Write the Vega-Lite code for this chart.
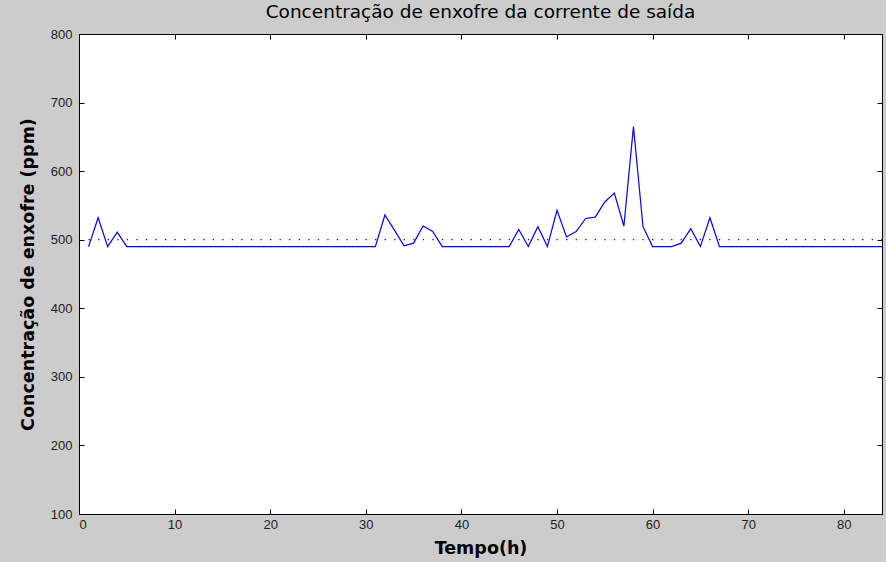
{
  "$schema": "https://vega.github.io/schema/vega-lite/v6.json",
  "width": 803,
  "height": 480,
  "autosize": {"type": "none"},
  "padding": {"left": 79, "top": 34, "right": 4, "bottom": 48},
  "background": "#cccccc",
  "title": {
    "text": "Concentração de enxofre da corrente de saída",
    "font": "DejaVu Sans",
    "fontSize": 18.5,
    "fontWeight": "normal",
    "color": "#000000",
    "anchor": "middle",
    "offset": 7
  },
  "config": {
    "view": {"fill": "#ffffff", "stroke": "#000000", "strokeWidth": 1},
    "axis": {
      "grid": false,
      "domainColor": "#000000",
      "tickColor": "#000000",
      "tickWidth": 1,
      "tickSize": -5,
      "labelFont": "Liberation Sans",
      "labelFontSize": 13,
      "labelColor": "#222222",
      "titleFont": "DejaVu Sans",
      "titleFontSize": 17.5,
      "titleFontWeight": "bold",
      "titleColor": "#000000"
    }
  },
  "datasets": {
    "saida": [
      {"t": 1, "c": 490}, {"t": 2, "c": 532}, {"t": 3, "c": 490}, {"t": 4, "c": 511},
      {"t": 5, "c": 490}, {"t": 6, "c": 490}, {"t": 7, "c": 490}, {"t": 8, "c": 490},
      {"t": 9, "c": 490}, {"t": 10, "c": 490}, {"t": 11, "c": 490}, {"t": 12, "c": 490},
      {"t": 13, "c": 490}, {"t": 14, "c": 490}, {"t": 15, "c": 490}, {"t": 16, "c": 490},
      {"t": 17, "c": 490}, {"t": 18, "c": 490}, {"t": 19, "c": 490}, {"t": 20, "c": 490},
      {"t": 21, "c": 490}, {"t": 22, "c": 490}, {"t": 23, "c": 490}, {"t": 24, "c": 490},
      {"t": 25, "c": 490}, {"t": 26, "c": 490}, {"t": 27, "c": 490}, {"t": 28, "c": 490},
      {"t": 29, "c": 490}, {"t": 30, "c": 490}, {"t": 31, "c": 490}, {"t": 32, "c": 536},
      {"t": 33, "c": 514}, {"t": 34, "c": 491}, {"t": 35, "c": 495}, {"t": 36, "c": 520},
      {"t": 37, "c": 512}, {"t": 38, "c": 490}, {"t": 39, "c": 490}, {"t": 40, "c": 490},
      {"t": 41, "c": 490}, {"t": 42, "c": 490}, {"t": 43, "c": 490}, {"t": 44, "c": 490},
      {"t": 45, "c": 490}, {"t": 46, "c": 515}, {"t": 47, "c": 490}, {"t": 48, "c": 519},
      {"t": 49, "c": 490}, {"t": 50, "c": 543}, {"t": 51, "c": 504}, {"t": 52, "c": 512},
      {"t": 53, "c": 531}, {"t": 54, "c": 533}, {"t": 55, "c": 555}, {"t": 56, "c": 568},
      {"t": 57, "c": 520}, {"t": 58, "c": 665}, {"t": 59, "c": 519}, {"t": 60, "c": 490},
      {"t": 61, "c": 490}, {"t": 62, "c": 490}, {"t": 63, "c": 495}, {"t": 64, "c": 516},
      {"t": 65, "c": 490}, {"t": 66, "c": 532}, {"t": 67, "c": 490}, {"t": 68, "c": 490},
      {"t": 69, "c": 490}, {"t": 70, "c": 490}, {"t": 71, "c": 490}, {"t": 72, "c": 490},
      {"t": 73, "c": 490}, {"t": 74, "c": 490}, {"t": 75, "c": 490}, {"t": 76, "c": 490},
      {"t": 77, "c": 490}, {"t": 78, "c": 490}, {"t": 79, "c": 490}, {"t": 80, "c": 490},
      {"t": 81, "c": 490}, {"t": 82, "c": 490}, {"t": 83, "c": 490}, {"t": 84, "c": 490}
    ],
    "especificacao": [
      {"t": 1, "c": 500},
      {"t": 84, "c": 500}
    ]
  },
  "layer": [
    {
      "data": {"name": "saida"},
      "mark": {"type": "line", "color": "#0000ff", "strokeWidth": 1.2},
      "encoding": {
        "x": {
          "field": "t", "type": "quantitative",
          "scale": {"domain": [0, 84], "nice": false, "zero": false},
          "axis": {"title": "Tempo(h)", "values": [0, 10, 20, 30, 40, 50, 60, 70, 80], "labelPadding": 9, "titlePadding": 8}
        },
        "y": {
          "field": "c", "type": "quantitative",
          "scale": {"domain": [100, 800], "nice": false, "zero": false},
          "axis": {"title": "Concentração de enxofre (ppm)", "values": [100, 200, 300, 400, 500, 600, 700, 800], "labelPadding": 12, "titlePadding": 13}
        }
      }
    },
    {
      "data": {"name": "especificacao"},
      "mark": {"type": "line", "color": "#0000ff", "strokeWidth": 1.3, "strokeDash": [1.3, 8.25]},
      "encoding": {
        "x": {
          "field": "t", "type": "quantitative",
          "axis": {"orient": "top", "title": null, "labels": false, "values": [0, 10, 20, 30, 40, 50, 60, 70, 80]}
        },
        "y": {
          "field": "c", "type": "quantitative",
          "axis": {"orient": "right", "title": null, "labels": false, "values": [100, 200, 300, 400, 500, 600, 700, 800]}
        }
      }
    }
  ],
  "resolve": {"axis": {"x": "independent", "y": "independent"}}
}
